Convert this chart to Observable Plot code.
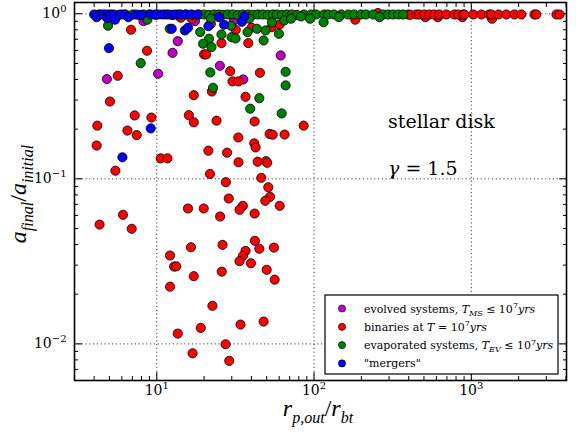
<!DOCTYPE html>
<html><head><meta charset="utf-8">
<script src="https://cdn.jsdelivr.net/npm/d3@7"></script>
<script src="https://cdn.jsdelivr.net/npm/@observablehq/plot@0.6"></script>
<style>
body{margin:0;background:#fff}
svg{font-family:"DejaVu Serif",serif}
</style>
</head><body><div id="chart"></div>
<script>
// evolved systems (magenta)
const evolved = [
 [4.82,0.402],[8.23,0.902],[10.2,0.433],[12.6,0.580],[13.6,0.682],[17.5,0.902],
 [25.2,0.484],[31.0,0.911],[35.5,0.400],[61.4,0.559]
];
// binaries at T = 1e7 yrs (red)
const binaries = [
 [6.86,0.800],[8.67,0.597],[5.65,0.421],[5.04,0.294],[7.24,0.242],[9.25,0.235],[4.19,0.210],
 [6.51,0.196],[7.46,0.184],[4.15,0.159],[10.6,0.133],[11.7,0.133],[5.46,0.112],[6.10,0.0605],
 [4.33,0.0528],[6.93,0.0498],
 [16.0,0.243],[17.2,0.220],[17.2,0.321],[22.4,0.338],[20.0,0.567],[20.6,0.567],[25.8,0.664],
 [24.0,0.225],[29.3,0.449],[30.3,0.389],[33.1,0.389],[31.8,0.800],[40.1,0.823],[38.2,0.664],
 [53.8,0.829],[60.5,0.861],[45.3,0.439],[36.7,0.314],[33.0,0.178],[41.9,0.2225],[52.2,0.187],
 [54.6,0.185],[65.0,0.1855],[85.9,0.210],[41.7,0.164],[42.5,0.155],[21.3,0.148],[28.0,0.144],
 [33.1,0.126],[43.8,0.127],[49.5,0.128],[50.4,0.125],[21.8,0.107],[27.5,0.0954],[46.2,0.1014],
 [51.2,0.0889],[28.7,0.0760],[52.5,0.0778],[49.0,0.0736],[60.5,0.0686],[15.8,0.0661],[19.9,0.0661],
 [35.3,0.0686],[33.6,0.0649],[25.3,0.0591],[41.9,0.0616],
 [12.15,0.0343],[16.5,0.0385],[26.2,0.0398],[42.1,0.0421],[36.7,0.0366],[35.3,0.0341],[33.6,0.0317],
 [44.9,0.0377],[55.6,0.0383],[39.7,0.0308],[12.9,0.0294],[13.3,0.0295],[17.2,0.0257],[25.9,0.0274],
 [50.0,0.0281],[56.2,0.0245],[12.15,0.0222],[22.6,0.0170],[47.8,0.01365],[34.1,0.01309],[19.05,0.0125],
 [13.6,0.01154],[27.4,0.00995],[16.9,0.00877],[28.9,0.00789],
 [183,0.920],[510,0.954],[613,0.954],[877,0.954],[1355,0.933],[255,1.01],[14.2,0.946],[16.7,0.933],[22.1,0.870],
 [397,0.99],[410,0.985],[447,0.99],[467,0.99],[502,0.99],[540,0.99],[581,0.99],[625,0.99],[693,0.99],
 [780,0.99],[826,0.99],[889,0.99],[903,0.99],[1030,0.99],[1160,0.99],[1300,0.99],[1340,0.99],
 [1490,0.99],[1670,0.99],[1880,0.99],[2080,0.99],[2520,0.99],[2590,0.99],[3480,0.99],[3640,0.99]
];
// evaporated systems (green)
const evaporated = [
 [4.27,0.99],[4.67,0.985],[5.09,0.99],[5.73,0.985],[6.35,0.99],[7.03,0.99],[7.68,0.985],[8.26,0.99],
 [8.89,0.99],[9.85,0.985],[10.3,0.99],[11.4,0.99],[12.6,0.985],[13.8,0.99],[15.3,0.99],[16.9,0.985],
 [18.5,0.99],[19.9,0.99],[21.4,0.985],[23.1,0.99],[24.8,0.99],[26.3,0.985],[28.3,0.99],[30.5,0.99],
 [32.8,0.985],[35.3,0.99],[38.0,0.99],[40.8,0.985],[44.0,0.99],[47.3,0.99],[50.9,0.985],[54.8,0.99],
 [58.1,0.99],[62.5,0.985],[67.3,0.99],[72.4,0.99],[77.9,0.985],[86.3,0.99],[95.7,0.99],[103,0.99],
 [116,0.99],[123,0.99],[134,0.99],[149,0.99],[165,0.99],[180,0.99],[199,0.99],[214,0.99],[238,0.99],
 [275,0.99],[296,0.99],[318,0.99],[343,0.99],[369,0.99],
 [94.3,0.933],[115,0.889],[144,0.954],[261,0.954],[8.72,0.92],[64.7,0.911],[71.4,0.933],[82.6,0.963],
 [38.7,0.933],[22.1,0.933],
 [4.90,0.846],[7.91,0.502],[12.1,0.811],[18.9,0.774],[21.5,0.706],[19.7,0.658],[22.3,0.628],[25.8,0.749],
 [29.9,0.721],[31.7,0.708],[29.6,0.846],[37.8,0.774],[43.4,0.811],[49.2,0.792],[54.0,0.886],[59.8,0.756],
 [47.8,0.689],[21.9,0.441],[66.0,0.445],[22.8,0.356],[66.0,0.368],[44.9,0.308],[39.3,0.266],[62.3,0.249]
];
// "mergers" (blue)
const mergers = [
 [4.0,0.99],[4.15,0.954],[4.40,0.99],[4.6,0.99],[4.85,0.99],[4.85,0.94],[5.09,0.985],[5.32,0.99],
 [5.43,0.92],[5.9,0.99],[6.17,0.99],[6.6,0.954],[7.35,0.99],[8.0,0.985],[9.16,0.99],[9.85,0.99],
 [10.9,0.99],[11.9,0.99],[12.6,0.985],[13.2,0.99],[14.2,0.99],[15.3,0.99],[16.5,0.99],[18.2,0.99],
 [24.9,0.954],[36.0,0.963],[34.8,0.894],
 [4.97,0.619],[9.16,0.202],[6.05,0.135],[12.46,0.811],[15.1,0.792],[15.8,0.823],[21.3,0.841],[26.8,0.858]
];

const xMajor = [10, 100, 1000];
const xExp = ["1", "2", "3"];
const yMajor = [0.01, 0.1, 1];
const yExp = ["−2", "−1", "0"];
const xMinor = [4,5,6,7,8,9,20,30,40,50,60,70,80,90,200,300,400,500,600,700,800,900,2000,3000,4000];
const yMinor = [0.007,0.008,0.009,0.02,0.03,0.04,0.05,0.06,0.07,0.08,0.09,0.2,0.3,0.4,0.5,0.6,0.7,0.8,0.9];

const seriesColors = ["#bf00bf", "#ff0000", "#008000", "#0000ff"];
const legendRows = [
  [{t:"evolved systems, "},{t:"T",i:1},{t:"MS",i:1,s:"sub"},{t:" ≤ 10"},{t:"7",s:"sup"},{t:"yrs",i:1}],
  [{t:"binaries at "},{t:"T",i:1},{t:" = 10"},{t:"7",s:"sup"},{t:"yrs",i:1}],
  [{t:"evaporated systems, "},{t:"T",i:1},{t:"EV",i:1,s:"sub"},{t:" ≤ 10"},{t:"7",s:"sup"},{t:"yrs",i:1}],
  [{t:"\"mergers\""}]
];

const dotOpts = (c) => ({x: d => d[0], y: d => d[1], r: 4.6, fill: c, stroke: "black", strokeWidth: 0.8});
const grid = {strokeDasharray: "1.2,2.6", stroke: "#000", strokeOpacity: 0.75, strokeWidth: 1};
const xMap = new Map(xMajor.map((v,i)=>[v, "10^" + xExp[i]]));
const yMap = new Map(yMajor.map((v,i)=>[v, "10^" + yExp[i]]));

const plot = Plot.plot({
  width: 582, height: 432,
  marginLeft: 74, marginRight: 16, marginTop: 2, marginBottom: 52,
  x: {type: "log", domain: [3.0, 4030]},
  y: {type: "log", domain: [0.006, 1.17]},
  style: {fontFamily: "DejaVu Serif, serif", fontSize: "14px", background: "white", color: "black"},
  marks: [
    Plot.gridX({ticks: xMajor, ...grid}),
    Plot.gridY({ticks: yMajor, ...grid}),
    Plot.axisX({ticks: xMajor, anchor: "bottom", tickSize: -8, tickPadding: 13, tickFormat: d => xMap.get(d), label: null, fontSize: 14}),
    Plot.axisX({ticks: xMinor, anchor: "bottom", tickSize: -4, tickFormat: () => "", label: null}),
    Plot.axisX({ticks: xMajor, anchor: "top", tickSize: -8, tickFormat: () => "", label: null}),
    Plot.axisX({ticks: xMinor, anchor: "top", tickSize: -4, tickFormat: () => "", label: null}),
    Plot.axisY({ticks: yMajor, anchor: "left", tickSize: -8, tickPadding: 16, tickFormat: d => yMap.get(d), label: null, fontSize: 14}),
    Plot.axisY({ticks: yMinor, anchor: "left", tickSize: -4, tickFormat: () => "", label: null}),
    Plot.axisY({ticks: yMajor, anchor: "right", tickSize: -8, tickFormat: () => "", label: null}),
    Plot.axisY({ticks: yMinor, anchor: "right", tickSize: -4, tickFormat: () => "", label: null}),
    Plot.dot(evolved, dotOpts(seriesColors[0])),
    Plot.dot(binaries, dotOpts(seriesColors[1])),
    Plot.dot(evaporated, dotOpts(seriesColors[2])),
    Plot.dot(mergers, dotOpts(seriesColors[3])),
    Plot.frame({stroke: "black", strokeWidth: 1.6})
  ]
});
document.getElementById("chart").appendChild(plot);
const svg = d3.select(plot);

// superscript exponents in tick labels
svg.selectAll("text").each(function() {
  const s = this.textContent;
  if (s && s.startsWith("10^")) {
    const e = s.slice(3);
    const t = d3.select(this);
    t.text(null);
    t.append("tspan").text("10");
    t.append("tspan").attr("dy", "-6").attr("font-size", "10px").text(e);
  }
});

function rich(sel, parts, base, subSize) {
  let off = 0;
  for (const p of parts) {
    const target = p.s === "sub" ? base * 0.3 : p.s === "sup" ? -base * 0.4 : 0;
    const ts = sel.append("tspan").text(p.t);
    if (target !== off) ts.attr("dy", target - off);
    off = target;
    if (p.i) ts.attr("font-style", "italic");
    if (p.s) ts.attr("font-size", subSize + "px");
  }
}

// axis labels
const ylab = svg.append("text").attr("transform", "translate(26,194) rotate(-90)")
  .attr("text-anchor", "middle").attr("font-size", 24).attr("font-family", "Liberation Serif, serif");
rich(ylab, [{t:"a",i:1},{t:"final",i:1,s:"sub"},{t:"/"},{t:"a",i:1},{t:"initial",i:1,s:"sub"}], 24, 16);
const xlab = svg.append("text").attr("x", 318).attr("y", 416)
  .attr("text-anchor", "middle").attr("font-size", 24).attr("font-family", "Liberation Serif, serif");
rich(xlab, [{t:"r",i:1},{t:"p,out",i:1,s:"sub"},{t:"/"},{t:"r",i:1},{t:"bt",i:1,s:"sub"}], 24, 16);

// annotations
svg.append("text").attr("x", 388).attr("y", 128).attr("text-anchor", "start").attr("font-size", 19).text("stellar disk");
const g = svg.append("text").attr("x", 388).attr("y", 175).attr("text-anchor", "start").attr("font-size", 19);
rich(g, [{t:"γ",i:1},{t:" = 1.5"}], 19, 13);

// legend
const lg = svg.append("g").attr("text-anchor", "start");
lg.append("rect").attr("x", 325).attr("y", 295).attr("width", 233).attr("height", 79)
  .attr("fill", "white").attr("stroke", "black").attr("stroke-width", 1.2);
legendRows.forEach((row, i) => {
  const cy = 308.5 + i * 18.3;
  lg.append("circle").attr("cx", 342).attr("cy", cy).attr("r", 3.6)
    .attr("fill", seriesColors[i]).attr("stroke", "black").attr("stroke-width", 0.6);
  const t = lg.append("text").attr("x", 364).attr("y", cy + 4).attr("text-anchor", "start").attr("font-size", 11);
  rich(t, row, 11, 8);
});
</script>
</body></html>
